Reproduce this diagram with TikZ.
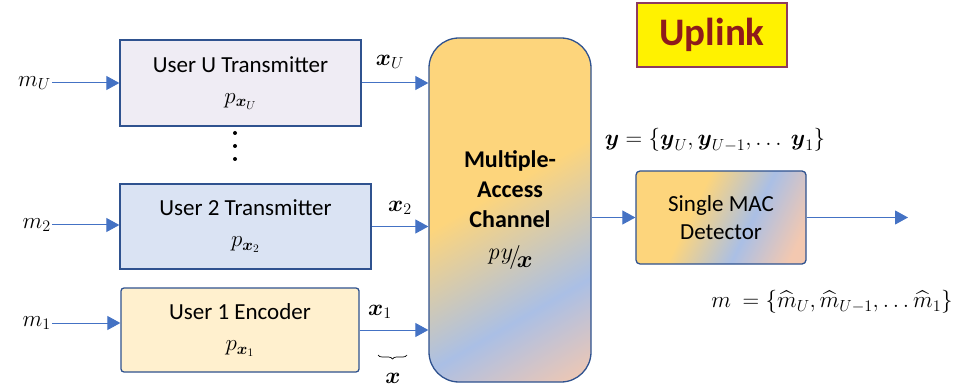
\RequirePackage{fix-cm}
\documentclass[tikz,border=0pt]{standalone}
\usepackage{amsmath}
\usepackage{amssymb}
\usepackage[no-math]{fontspec}
\setmainfont{Carlito}
\usepackage{tikz}
\usetikzlibrary{arrows.meta}
\usetikzlibrary{decorations.pathreplacing}

\definecolor{linkblue}{HTML}{4472C4}
\definecolor{edgeblue}{HTML}{2F528F}
\definecolor{userUfill}{HTML}{EFECF4}
\definecolor{user2fill}{HTML}{DAE3F3}
\definecolor{user1fill}{HTML}{FFF0CE}
\definecolor{gradyel}{HTML}{FDD57C}
\definecolor{gradblu}{HTML}{AABFE5}
\definecolor{gradpch}{HTML}{F3C8B0}
\definecolor{uplinkred}{HTML}{8E1B1B}
\definecolor{uplinkedge}{HTML}{8E3B5E}

\pgfdeclarehorizontalshading{chanfade}{100bp}{color(0bp)=(gradyel); color(46bp)=(gradyel); color(68bp)=(gradblu); color(84bp)=(gradpch); color(100bp)=(gradpch)}
\pgfdeclarehorizontalshading{detfade}{100bp}{color(0bp)=(gradyel); color(40bp)=(gradyel); color(60bp)=(gradblu); color(78bp)=(gradpch); color(100bp)=(gradpch)}

\tikzset{
    block/.style={draw=edgeblue, line width=1.3pt, align=center, inner sep=2pt,
        font=\fontsize{23}{28}\selectfont},
    lbl/.style={inner sep=1pt, font=\fontsize{23}{28}\selectfont},
    flow/.style={linkblue, line width=1pt, -{Triangle[length=13pt, width=14pt]}},
    tag/.style={draw=uplinkedge, line width=1.3pt, fill=yellow, text=uplinkred,
        font=\bfseries\fontsize{39}{44}\selectfont, minimum width=150, minimum height=64}
}

\begin{document}
\begin{tikzpicture}[x=1pt, y=-1pt]
    \useasboundingbox (0,0) rectangle (961,390);
    % Uplink tag
    \node[tag] (uplink) at (712,35) {Uplink};
    % Transmitters
    \node[block, fill=userUfill, minimum width=241, minimum height=86] (userU) at (240.5,83)
        {User U Transmitter\\[3pt]$p_{\boldsymbol{x}_U}$};
    \node[block, fill=user2fill, minimum width=251, minimum height=85] (user2) at (245.5,226.5)
        {User 2 Transmitter\\[3pt]$p_{\boldsymbol{x}_2}$};
    \node[block, fill=user1fill, rounded corners=3pt, minimum width=238, minimum height=84] (user1) at (240,330)
        {User 1 Encoder\\[3pt]$p_{\boldsymbol{x}_1}$};
    \foreach \y in {133,146,159}
        \fill (235,\y) circle (2pt);
    % Channel and detector
    \node[block, rounded corners=30pt, minimum width=162, minimum height=344,
        shading=chanfade, shading angle=-60, font=\bfseries\fontsize{24}{30}\selectfont] (mac) at (510,210)
        {Multiple-\\Access\\Channel\\[2pt]$\mathit{p}y\!\raisebox{-4pt}{$/$}\!\raisebox{-8pt}{$\boldsymbol{x}$}$};
    \node[block, rounded corners=4pt, minimum width=170, minimum height=93,
        shading=detfade, shading angle=-26] (det) at (721,217.5) {Single MAC\\Detector};
    % Messages in
    \node[lbl, anchor=east] (mU) at (52,83) {$m_U$};
    \node[lbl, anchor=east] (m2) at (52,225) {$m_2$};
    \node[lbl, anchor=east] (m1) at (52,323) {$m_1$};
    \draw[flow] (mU) -- (mU -| userU.west);
    \draw[flow] (m2) -- (m2 -| user2.west);
    \draw[flow] (m1) -- (m1 -| user1.west);
    % Symbols into the channel
    \node[lbl] (xU) at (390,62) {$\boldsymbol{x}_U$};
    \node[lbl] (x2) at (400,208) {$\boldsymbol{x}_2$};
    \node[lbl] (x1) at (380,312) {$\boldsymbol{x}_1$};
    \coordinate (braceL) at (378,355);
    \coordinate (braceR) at (407,355);
    \draw[decorate, decoration={brace, mirror, amplitude=4pt}, line width=0.7pt] (braceL) -- (braceR);
    \node[lbl] (xall) at (393,378) {$\boldsymbol{x}$};
    \draw[flow] (userU) -- (userU -| mac.west);
    \draw[flow] (user2) -- (user2 -| mac.west);
    \draw[flow] (user1) -- (user1 -| mac.west);
    % Received signal and estimates
    \node[lbl] (ysig) at (715,140) {$\boldsymbol{y} = \{\boldsymbol{y}_U, \boldsymbol{y}_{U-1}, \ldots\ \boldsymbol{y}_1\}$};
    \node[lbl] (mest) at (832,302) {$m\ = \{\widehat{m}_U, \widehat{m}_{U-1}, \ldots \widehat{m}_1\}$};
    \coordinate (out) at (908,217.5);
    \draw[flow] (mac.east |- det) -- (det);
    \draw[flow] (det) -- (out);
\end{tikzpicture}
\end{document}
